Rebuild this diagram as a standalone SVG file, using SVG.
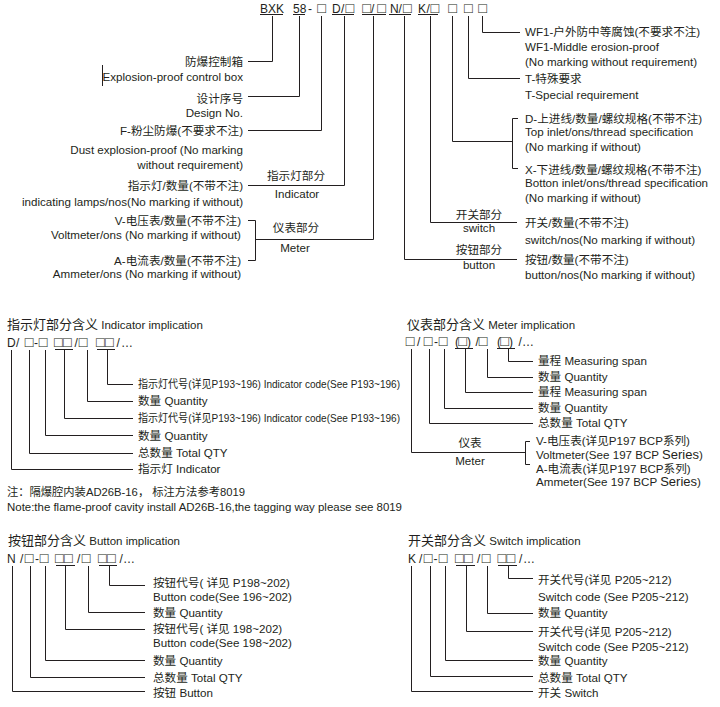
<svg xmlns="http://www.w3.org/2000/svg" width="720" height="707" viewBox="0 0 720 707">
<style>
text{font-family:"Liberation Sans","Noto Sans CJK SC",sans-serif;font-size:11.6px;fill:#231f20}
.e{text-anchor:end}
.m{text-anchor:middle}
.ti{font-size:13px}
.te{font-size:11.5px}
.c{font-size:12px}
.sq{font-family:"Liberation Sans",sans-serif;font-size:14.5px}
.dq{font-family:"Liberation Sans",sans-serif;font-size:14.5px;letter-spacing:0.3px}
.ln{stroke:#231f20;stroke-width:1;fill:none}
</style>
<rect width="720" height="707" fill="#fff"/>

<g id="code-top">
<text class="c" y="13"><tspan x="260">BXK</tspan><tspan x="293">58</tspan><tspan x="308">-</tspan><tspan x="332">D</tspan><tspan x="341">/</tspan><tspan x="371">/</tspan><tspan x="390">N</tspan><tspan x="398.5">/</tspan><tspan x="418">K</tspan><tspan x="426.5">/</tspan></text>
<text class="sq" y="13"><tspan x="317.2">□</tspan><tspan x="345.6">□</tspan><tspan x="362.2">□</tspan><tspan x="377.2">□</tspan><tspan x="402.9">□</tspan><tspan x="430.6">□</tspan><tspan x="448.2">□</tspan><tspan x="463.9">□</tspan><tspan x="478.2">□</tspan></text>
<path class="ln" d="M260,14.5H283M293,14.5H305M332,14.5H354M362,14.5H386M389,14.5H411M418,14.5H438"/>
</g>

<g id="connectors">
<path class="ln" d="M272.5,16V61.5H248M299.5,16V96.5H248M321.5,16V130.5H248M344.5,16V185.5H248M373.5,16V239.5H255.5M248,220.5H255.5V260.5H248M404.5,16V259.5H517M430.5,16V222.5H517M452.5,16V141.5H512.5M518,118.5H512.5V168.5H518M468.5,16V78.5H520M482.5,16V32.5H520M102.5,65V86"/>
<path class="ln" d="M107.5,350V384.5H133M87.5,350V401.5H133M64.5,350V418.5H133M45.5,350V435.5H133M29.5,350V453.5H133M11.5,350V469.5H133"/>
<path class="ln" d="M508.5,349V361.5H533M487.5,349V377.5H533M465.5,349V392.5H533M444.5,349V408.5H533M429.5,349V423.5H533M411.5,349V452.5H525.5M530,441.5H525.5V464.5H530"/>
<path class="ln" d="M109.5,566V585.5H145M88.5,566V612.5H145M65.5,566V629.5H145M45.5,566V660.5H145M30.5,566V677.5H145M12.5,566V691.5H145"/>
<path class="ln" d="M508.5,566V578.5H533M487.5,566V613.5H533M466.5,566V631.5H533M445.5,566V660.5H533M430.5,566V676.5H533M411.5,566V691.5H533"/>
</g>

<g id="box">
<text class="e" x="243" y="66">防爆控制箱</text>
<text class="e" x="243" y="81">Explosion-proof control box</text>
</g>
<g id="design">
<text class="e" x="243" y="103">设计序号</text>
<text class="e" x="243" y="117">Design No.</text>
</g>
<g id="dust">
<text class="e" x="243" y="135">F-粉尘防爆(不要求不注)</text>
<text class="e" x="243" y="154">Dust explosion-proof (No marking</text>
<text class="e" x="243" y="169">without requirement)</text>
</g>
<g id="indicator">
<text class="e" x="243" y="190">指示灯/数量(不带不注)</text>
<text class="e" x="243" y="206">indicating lamps/nos(No marking if without)</text>
<text class="m" x="296" y="180">指示灯部分</text>
<text class="m" x="297" y="198">Indicator</text>
</g>
<g id="meter">
<text class="e" x="241" y="225">V-电压表/数量(不带不注)</text>
<text class="e" x="241" y="239">Voltmeter/ons (No marking if without)</text>
<text class="e" x="241" y="265">A-电流表/数量(不带不注)</text>
<text class="e" x="241" y="278">Ammeter/ons (No marking if without)</text>
<text class="m" x="296" y="232">仪表部分</text>
<text class="m" x="295" y="252">Meter</text>
</g>
<g id="wf1">
<text x="525" y="36">WF1-户外防中等腐蚀(不要求不注)</text>
<text x="525" y="51">WF1-Middle erosion-proof</text>
<text x="525" y="66">(No marking without requirement)</text>
</g>
<g id="special">
<text x="525" y="83">T-特殊要求</text>
<text x="525" y="99">T-Special requirement</text>
</g>
<g id="inlet">
<text x="525" y="123">D-上进线/数量/螺纹规格(不带不注)</text>
<text x="525" y="136">Top inlet/ons/thread specification</text>
<text x="525" y="151">(No marking if without)</text>
<text x="525" y="174">X-下进线/数量/螺纹规格(不带不注)</text>
<text x="525" y="187">Botton inlet/ons/thread specification</text>
<text x="525" y="202">(No marking if without)</text>
</g>
<g id="switch">
<text class="m" x="479" y="219">开关部分</text>
<text class="m" x="479" y="232">switch</text>
<text x="525" y="227">开关/数量(不带不注)</text>
<text x="525" y="244">switch/nos(No marking if without)</text>
</g>
<g id="button">
<text class="m" x="479" y="254">按钮部分</text>
<text class="m" x="479" y="269">button</text>
<text x="525" y="264">按钮/数量(不带不注)</text>
<text x="525" y="279">button/nos(No marking if without)</text>
</g>

<g id="indicator-implication">
<text x="7" y="329"><tspan class="ti">指示灯部分含义</tspan><tspan class="te"> Indicator implication</tspan></text>
<text class="c" y="347"><tspan x="7">D</tspan><tspan x="16">/</tspan><tspan x="34">-</tspan><tspan x="74.5">/</tspan><tspan x="116.5">/</tspan><tspan x="121">…</tspan></text>
<text class="sq" y="347"><tspan x="24.8">□</tspan><tspan x="38.8">□</tspan><tspan x="78.8">□</tspan></text>
<text class="dq" y="347"><tspan x="54">□□</tspan><tspan x="96">□□</tspan></text>
<path class="ln" d="M55,349.5H73M97,349.5H115"/>
<text x="138" y="388" textLength="262" lengthAdjust="spacingAndGlyphs">指示灯代号(详见P193~196)  Indicator code(See P193~196)</text>
<text x="138" y="405">数量 Quantity</text>
<text x="138" y="422" textLength="262" lengthAdjust="spacingAndGlyphs">指示灯代号(详见P193~196)  Indicator code(See P193~196)</text>
<text x="138" y="440">数量 Quantity</text>
<text x="138" y="457">总数量 Total QTY</text>
<text x="138" y="473">指示灯 Indicator</text>
<text x="7" y="496" textLength="238" lengthAdjust="spacingAndGlyphs">注：隔爆腔内装AD26B-16， 标注方法参考8019</text>
<text x="7" y="511" textLength="395" lengthAdjust="spacingAndGlyphs">Note:the flame-proof cavity install AD26B-16,the tagging way please see 8019</text>
</g>

<g id="meter-implication">
<text x="407" y="329"><tspan class="ti">仪表部分含义</tspan><tspan class="te"> Meter implication</tspan></text>
<text class="c" y="346"><tspan x="417">/</tspan><tspan x="434">-</tspan><tspan x="455">(</tspan><tspan x="467">)</tspan><tspan x="475.5">/</tspan><tspan x="497">(</tspan><tspan x="509">)</tspan><tspan x="518.5">/</tspan><tspan x="522">…</tspan></text>
<text class="sq" y="346"><tspan x="405.8">□</tspan><tspan x="423.8">□</tspan><tspan x="438.8">□</tspan><tspan x="458.3">□</tspan><tspan x="478.8">□</tspan><tspan x="500.3">□</tspan></text>
<path class="ln" d="M455,348.5H473M497,348.5H515"/>
<text x="538" y="365">量程 Measuring span</text>
<text x="538" y="381">数量 Quantity</text>
<text x="538" y="396">量程 Measuring span</text>
<text x="538" y="412">数量 Quantity</text>
<text x="538" y="427">总数量 Total QTY</text>
<text class="m" x="470" y="447">仪表</text>
<text class="m" x="470" y="465">Meter</text>
<text x="536" y="445">V-电压表(详见P197 BCP系列)</text>
<text x="536" y="459">Voltmeter(See 197 BCP <tspan font-size="13">Series</tspan>)</text>
<text x="536" y="472.5">A-电流表(详见P197  BCP系列)</text>
<text x="536" y="486">Ammeter(See 197 BCP <tspan font-size="13">Series</tspan>)</text>
</g>

<g id="button-implication">
<text x="8" y="545"><tspan class="ti">按钮部分含义</tspan><tspan class="te"> Button implication</tspan></text>
<text class="c" y="563"><tspan x="7">N</tspan><tspan x="20">/</tspan><tspan x="35">-</tspan><tspan x="77">/</tspan><tspan x="119.5">/</tspan><tspan x="123">…</tspan></text>
<text class="sq" y="563"><tspan x="24.8">□</tspan><tspan x="39.8">□</tspan><tspan x="81.8">□</tspan></text>
<text class="dq" y="563"><tspan x="55">□□</tspan><tspan x="98">□□</tspan></text>
<path class="ln" d="M56,565.5H75M99,565.5H117"/>
<text x="153" y="587">按钮代号( 详见 P198~202)</text>
<text x="153" y="601">Button code(See 196~202)</text>
<text x="153" y="617">数量 Quantity</text>
<text x="153" y="633">按钮代号( 详见 198~202)</text>
<text x="153" y="647">Button code(See 198~202)</text>
<text x="153" y="665">数量 Quantity</text>
<text x="153" y="682">总数量 Total QTY</text>
<text x="153" y="697">按钮 Button</text>
</g>

<g id="switch-implication">
<text x="408" y="545"><tspan class="ti">开关部分含义</tspan><tspan class="te"> Switch implication</tspan></text>
<text class="c" y="563"><tspan x="408">K</tspan><tspan x="419">/</tspan><tspan x="433.5">-</tspan><tspan x="477">/</tspan><tspan x="519">/</tspan><tspan x="523">…</tspan></text>
<text class="sq" y="563"><tspan x="423.8">□</tspan><tspan x="438.8">□</tspan><tspan x="481.8">□</tspan></text>
<text class="dq" y="563"><tspan x="455">□□</tspan><tspan x="497.5">□□</tspan></text>
<path class="ln" d="M456,565.5H475M498,565.5H517"/>
<text x="538" y="584">开关代号(详见 P205~212)</text>
<text x="538" y="601">Switch code (See P205~212)</text>
<text x="538" y="617">数量 Quantity</text>
<text x="538" y="636">开关代号(详见 P205~212)</text>
<text x="538" y="651">Switch code (See P205~212)</text>
<text x="538" y="665">数量 Quantity</text>
<text x="538" y="682">总数量 Total QTY</text>
<text x="538" y="697">开关 Switch</text>
</g>
</svg>
